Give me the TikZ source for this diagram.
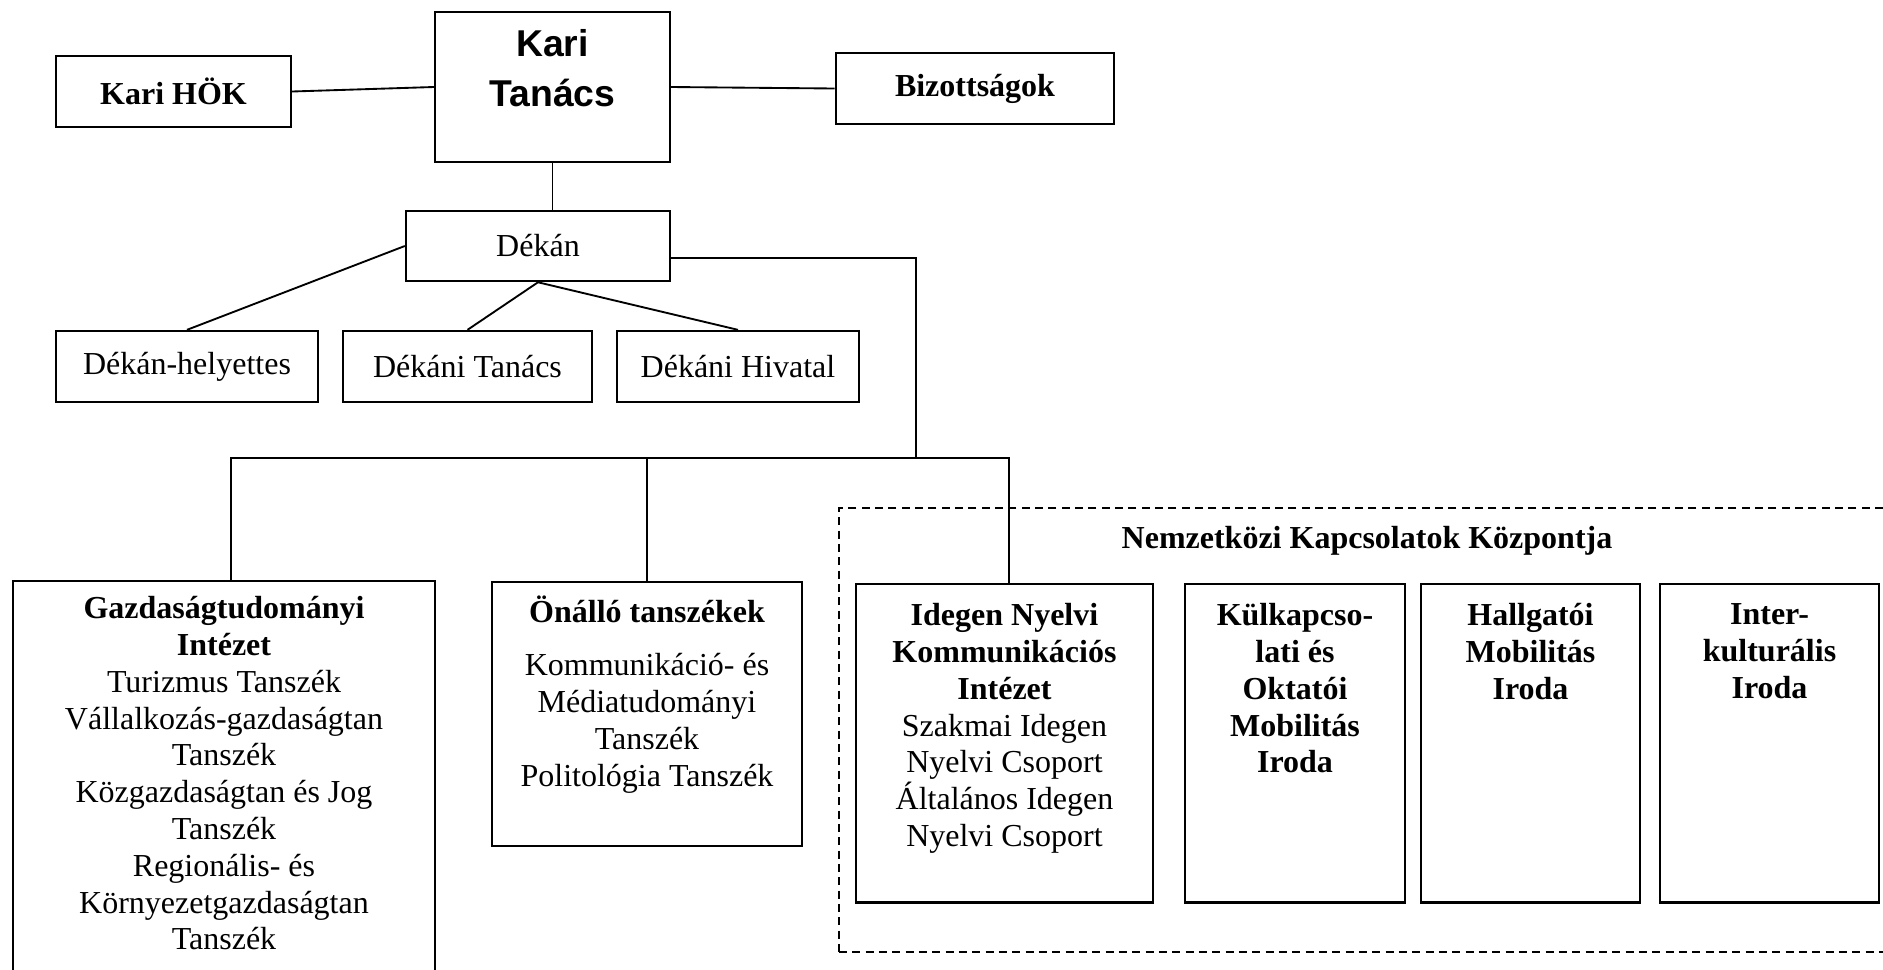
\documentclass[tikz,border=0pt]{standalone}
\usepackage{fontspec}
\setmainfont{Liberation Serif}
\setsansfont{Liberation Sans}
\usetikzlibrary{positioning}

\tikzset{
  box/.style={draw, line width=0.9pt, inner sep=0pt},
  txt/.style={align=center, inner sep=0pt, font=\fontsize{12}{13.8}\selectfont},
  btxt/.style={align=center, inner sep=0pt, font=\bfseries\fontsize{12}{13.8}\selectfont},
  link/.style={line width=0.7pt},
}

\begin{document}
\begin{tikzpicture}[x=0.375pt, y=-0.375pt]
    \useasboundingbox (0,0) rectangle (1883,969);

    % felso szint
    \node[box, minimum width=88.1pt, minimum height=56.3pt] (kt) at (552.5,87) {};
    \node[txt, font=\sffamily\bfseries\fontsize{14}{18.75}\selectfont, below=7pt of kt.north] (kttxt) {Kari\\Tanács};
    \node[box, btxt, minimum width=88.1pt, minimum height=26.6pt] (hok) at (173.5,91.5) {Kari HÖK};
    \node[box, btxt, minimum width=104.3pt, minimum height=26.6pt] (biz) at (975,88.5) {Bizottságok};

    % dekan
    \node[box, txt, minimum width=99pt, minimum height=26.3pt] (dekan) at (538,246) {Dékán};
    \node[box, txt, minimum width=98.3pt, minimum height=26.6pt] (helyettes) at (187,366.5) {Dékán-helyettes};
    \node[box, txt, minimum width=93.4pt, minimum height=26.6pt] (dtanacs) at (467.5,366.5) {Dékáni Tanács};
    \node[box, txt, minimum width=90.8pt, minimum height=26.6pt] (dhivatal) at (738,366.5) {Dékáni Hivatal};

    % intezetek
    \node[box, minimum width=158.3pt, minimum height=160pt, anchor=north] (gazd) at (224,580) {};
    \node[txt, below=6pt of gazd.north] (gazdtxt) {\textbf{Gazdaságtudományi}\\\textbf{Intézet}\\Turizmus Tanszék\\Vállalkozás-gazdaságtan\\Tanszék\\Közgazdaságtan és Jog\\Tanszék\\Regionális- és\\Környezetgazdaságtan\\Tanszék};
    \node[box, minimum width=116.3pt, minimum height=99pt, anchor=north] (onallo) at (647,581) {};
    \node[txt, below=5.5pt of onallo.north] (onallotxt) {\textbf{Önálló tanszékek}\\[6pt]Kommunikáció- és\\Médiatudományi\\Tanszék\\Politológia Tanszék};

    % nemzetkozi kapcsolatok
    \node[draw, dash pattern=on 3pt off 2pt, line width=0.7pt, inner sep=0pt, minimum width=400pt, minimum height=166.5pt, anchor=north west] (nkk) at (838,507) {};
    \node[btxt] (nkktxt) at (1367,541) {Nemzetközi Kapcsolatok Központja};
    \node[box, minimum width=111.4pt, minimum height=119.3pt, anchor=north] (idegen) at (1004.5,583) {};
    \node[txt, below=7.5pt of idegen.north] (idegentxt) {\textbf{Idegen Nyelvi}\\\textbf{Kommunikációs}\\\textbf{Intézet}\\Szakmai Idegen\\Nyelvi Csoport\\Általános Idegen\\Nyelvi Csoport};
    \foreach \nm/\cx/\lbl in {kulk/1295/{Külkapcso-\\lati és\\Oktatói\\Mobilitás\\Iroda}, hallg/1530.5/{Hallgatói\\Mobilitás\\Iroda}, inter/1769.5/{Inter-\\kulturális\\Iroda}}
    {
        \node[box, minimum width=82.3pt, minimum height=119.3pt, anchor=north] (\nm) at (\cx,583) {};
        \node[btxt, below=7.5pt of \nm.north] (\nm txt) {\lbl};
    }

    % vonalak
    \draw[link] (hok.east) -- (kt.west);
    \draw[link] (kt.east) -- (biz.west);
    \draw[link] (kt.south) -- (kt.south |- dekan.north);
    \draw[link] (dekan.west) -- (helyettes.north);
    \draw[link] (dekan.south) -- (dtanacs.north);
    \draw[link] (dekan.south) -- (dhivatal.north);
    \coordinate (bus) at (916,458);
    \draw[link] (dekan.-5) -| (bus);
    \draw[link] ([xshift=2.5pt]gazd.north) |- ([xshift=1.6pt]idegen.north |- bus) -- ([xshift=1.6pt]idegen.north);
    \draw[link] (onallo.north) -- (onallo.north |- bus);
\end{tikzpicture}
\end{document}
